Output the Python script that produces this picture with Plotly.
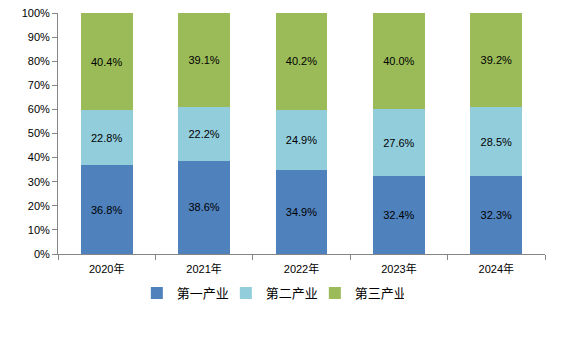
import plotly.graph_objects as go

years = ["2020年", "2021年", "2022年", "2023年", "2024年"]
primary = [36.8, 38.6, 34.9, 32.4, 32.3]
secondary = [22.8, 22.2, 24.9, 27.6, 28.5]
tertiary = [40.4, 39.1, 40.2, 40.0, 39.2]

names = ["第一产业", "第二产业", "第三产业"]
colors = ["#4F81BD", "#92CDDC", "#9BBB59"]

fig = go.Figure()
for name, vals, col in zip(names, [primary, secondary, tertiary], colors):
    fig.add_trace(go.Bar(
        x=years, y=vals, name=name, marker=dict(color=col, line=dict(width=0)),
        text=[f"{v:.1f}%" for v in vals], textposition="inside",
        insidetextanchor="middle", textangle=0, constraintext="none",
        textfont=dict(size=11, color="#000000", family="Liberation Sans, Arial, sans-serif"),
    ))

fig.update_layout(
    barmode="stack", bargap=0.467,
    width=572, height=343,
    margin=dict(l=58, r=27, t=13, b=89, autoexpand=False),
    plot_bgcolor="white", paper_bgcolor="white",
    font=dict(family="Liberation Sans, Arial, Noto Sans CJK SC, sans-serif", size=11, color="#000000"),
    showlegend=True,
    legend=dict(orientation="h", x=0.436, xanchor="center", y=-0.10, yanchor="top",
                font=dict(size=13, family="Noto Sans CJK SC, sans-serif"),
                itemwidth=30, entrywidth=44, traceorder="normal", tracegroupgap=0),
    xaxis=dict(showline=True, linecolor="#868686", linewidth=1, ticks="outside",
               tickson="boundaries", ticklen=5, tickcolor="#868686", showgrid=False,
               automargin=False, ticklabelstandoff=5,
               tickfont=dict(size=11, family="Liberation Sans, Noto Sans CJK SC, sans-serif")),
    yaxis=dict(range=[0, 100], dtick=10, ticksuffix="%", showline=True, linecolor="#868686",
               linewidth=1, ticks="outside", ticklen=5, tickcolor="#868686", showgrid=False,
               automargin=False, zeroline=False, tickfont=dict(size=11)),
)

fig.write_html("out.html")
